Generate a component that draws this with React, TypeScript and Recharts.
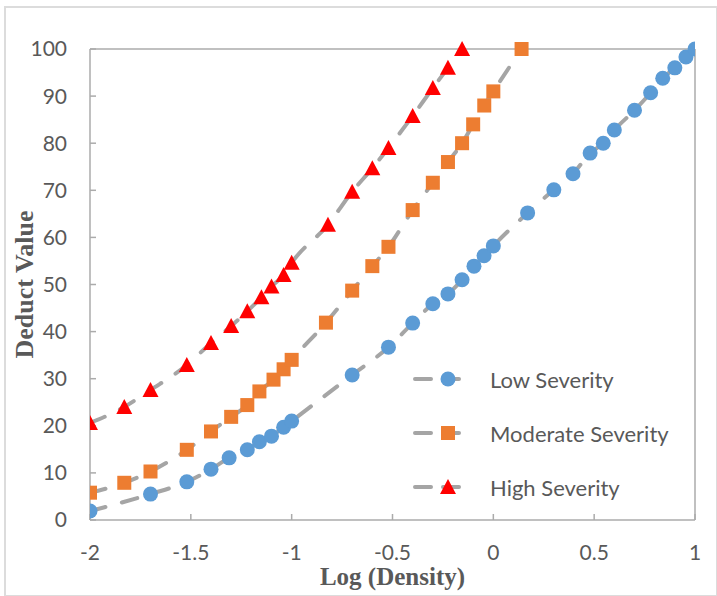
import React from 'react';
import { ComposedChart, Line, XAxis, YAxis, ReferenceLine } from 'recharts';

// values (x = log density, y = deduct value)
const lowX = [-2, -1.7, -1.52, -1.4, -1.31, -1.22, -1.16, -1.1, -1.04, -1, -0.7, -0.52, -0.4, -0.3, -0.225, -0.155, -0.096, -0.046, 0, 0.17, 0.3, 0.395, 0.48, 0.545, 0.6, 0.7, 0.78, 0.84, 0.9, 0.955, 1];
const lowY = [1.9, 5.5, 8.1, 10.8, 13.2, 14.9, 16.6, 17.8, 19.7, 21, 30.8, 36.7, 41.8, 45.9, 48, 51, 53.9, 56.1, 58.2, 65.2, 70.1, 73.5, 77.9, 80, 82.8, 87, 90.7, 93.8, 96, 98.3, 100];

const modX = [-2, -1.83, -1.7, -1.52, -1.4, -1.3, -1.22, -1.16, -1.09, -1.04, -1, -0.83, -0.7, -0.6, -0.52, -0.4, -0.3, -0.225, -0.155, -0.1, -0.045, 0, 0.14];
const modY = [5.8, 7.9, 10.3, 14.9, 18.8, 21.9, 24.4, 27.3, 29.8, 32, 34, 41.9, 48.7, 53.9, 58, 65.8, 71.6, 76, 80, 84, 88, 91, 100];

const highX = [-2, -1.83, -1.7, -1.52, -1.4, -1.3, -1.22, -1.15, -1.1, -1.04, -1, -0.82, -0.7, -0.6, -0.52, -0.4, -0.3, -0.225, -0.155];
const highY = [20.6, 24, 27.6, 32.9, 37.6, 41.2, 44.3, 47.3, 49.6, 52, 54.6, 62.7, 69.7, 74.7, 79, 85.8, 91.7, 96, 100];

const xTicks = [-2, -1.5, -1, -0.5, 0, 0.5, 1];
const yTicks = [0, 10, 20, 30, 40, 50, 60, 70, 80, 90, 100];

const seriesNames = ['Low Severity', 'Moderate Severity', 'High Severity'];

const toPoints = (xs: number[], ys: number[]) => xs.map((x, i) => ({ x, y: ys[i] }));

const LINE_COLOR = '#a5a5a5';
const AXIS_COLOR = '#ababab';
const TEXT_COLOR = '#595959';
const DASH = '16 17';

function Marker({ shape, cx, cy }: { shape: string; cx: number; cy: number }) {
  if (shape === 'circle') return <circle cx={cx} cy={cy} r={7.5} fill="#5b9bd5" />;
  if (shape === 'square') return <rect x={cx - 7} y={cy - 7} width={14} height={14} fill="#ed7d31" />;
  return <polygon points={`${cx},${cy - 8} ${cx + 8},${cy + 7} ${cx - 8},${cy + 7}`} fill="#ff0000" />;
}

const makeDot = (shape: string) => (props: any) => (
  <Marker key={`${shape}-${props.index}`} shape={shape} cx={props.cx} cy={props.cy} />
);

function LegendBox() {
  const shapes = ['circle', 'square', 'triangle'];
  return (
    <div style={{ position: 'absolute', left: 409, top: 352, width: 300, fontFamily: 'Lato, sans-serif', fontSize: 22, color: TEXT_COLOR }}>
      {seriesNames.map((name, i) => (
        <div key={name} style={{ display: 'flex', alignItems: 'center', height: 54 }}>
          <svg width={62} height={20}>
            <line x1={6} y1={10} x2={59} y2={10} stroke={LINE_COLOR} strokeWidth={4} strokeLinecap="round" strokeDasharray="16 12" />
            <Marker shape={shapes[i]} cx={39} cy={10} />
          </svg>
          <span style={{ marginLeft: 19 }}>{name}</span>
        </div>
      ))}
    </div>
  );
}

function YTitle({ viewBox }: any) {
  const cx = viewBox.x - 6;
  const cy = viewBox.y + viewBox.height / 2;
  return (
    <text
      x={cx}
      y={cy}
      transform={`rotate(-90, ${cx}, ${cy})`}
      textAnchor="middle"
      dominantBaseline="central"
      fill={TEXT_COLOR}
      style={{ fontFamily: '"Liberation Serif", serif', fontWeight: 'bold', fontSize: 26 }}
    >
      Deduct Value
    </text>
  );
}

export default function App() {
  const low = toPoints(lowX, lowY);
  const mod = toPoints(modX, modY);
  const high = toPoints(highX, highY);
  const tickStyle = { fontFamily: 'Lato, sans-serif', fontSize: 21, fill: TEXT_COLOR };

  return (
    <div style={{ position: 'absolute', left: 0, top: 0, width: 717, height: 596, background: '#fff' }}>
      <div style={{ position: 'absolute', left: 4, top: 6, width: 710, height: 587, border: '2px solid #dcdcdc' }} />
      <ComposedChart width={717} height={596} margin={{ top: 49, right: 22, bottom: 36, left: 30 }}>
        <XAxis
          dataKey="x"
          type="number"
          domain={[-2, 1]}
          ticks={xTicks}
          allowDataOverflow
          height={40}
          stroke={AXIS_COLOR}
          strokeWidth={1.5}
          tickSize={-6}
          tickMargin={31}
          tick={tickStyle}
          label={{
            value: 'Log (Density)',
            position: 'bottom',
            offset: 7,
            fill: TEXT_COLOR,
            style: { fontFamily: '"Liberation Serif", serif', fontWeight: 'bold', fontSize: 25 },
          }}
        />
        <YAxis
          dataKey="y"
          type="number"
          domain={[0, 100]}
          ticks={yTicks}
          width={60}
          stroke={AXIS_COLOR}
          strokeWidth={1.5}
          tickSize={-6}
          tickMargin={29}
          tick={tickStyle}
          label={<YTitle />}
        />
        <ReferenceLine y={100} stroke={AXIS_COLOR} strokeWidth={1.5} />
        <ReferenceLine x={1} stroke={AXIS_COLOR} strokeWidth={1.5} />
        <Line data={low} dataKey="y" name={seriesNames[0]} type="monotone" stroke={LINE_COLOR} strokeWidth={4} strokeLinecap="round" strokeDasharray={DASH} dot={makeDot('circle')} isAnimationActive={false} />
        <Line data={mod} dataKey="y" name={seriesNames[1]} type="monotone" stroke={LINE_COLOR} strokeWidth={4} strokeLinecap="round" strokeDasharray={DASH} dot={makeDot('square')} isAnimationActive={false} />
        <Line data={high} dataKey="y" name={seriesNames[2]} type="monotone" stroke={LINE_COLOR} strokeWidth={4} strokeLinecap="round" strokeDasharray={DASH} dot={makeDot('triangle')} isAnimationActive={false} />
      </ComposedChart>
      <LegendBox />
    </div>
  );
}
